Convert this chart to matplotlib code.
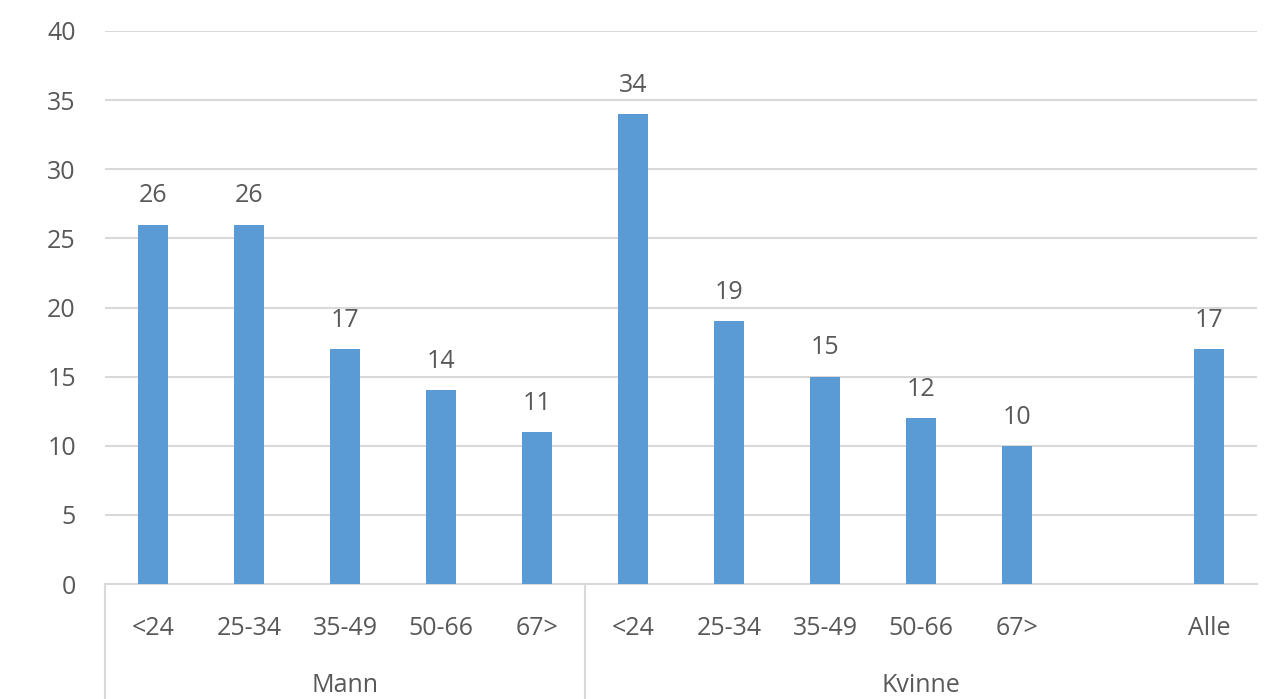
import matplotlib
matplotlib.use('agg')
import matplotlib.pyplot as plt
import numpy as np

# age groups shared by both sexes
age_groups = ["<24", "25-34", "35-49", "50-66", "67>"]
mann = [26, 26, 17, 14, 11]
kvinne = [34, 19, 15, 12, 10]
alle_label = "Alle"
alle = 17
group_names = ["Mann", "Kvinne"]

bar_color = "#5B9BD5"
text_color = "#595959"
grid_color = "#D9D9D9"
fsize = 18

plt.rcParams['font.family'] = ['Open Sans', 'DejaVu Sans']

# slot positions: 5 for Mann, 5 for Kvinne, one empty slot, then Alle
n = len(age_groups)
x_mann = np.arange(n)
x_kvinne = np.arange(n) + n
x_alle = 2 * n + 1

fig = plt.figure(figsize=(12.75, 6.99), dpi=100)
ax = fig.add_axes([105 / 1275, 1 - 584 / 699, 1152 / 1275, 553 / 699])

values = mann + kvinne + [alle]
xpos = list(x_mann) + list(x_kvinne) + [x_alle]
ax.bar(xpos, values, width=0.31, color=bar_color, zorder=3)

for x, v in zip(xpos, values):
    ax.annotate(str(v), (x, v), xytext=(0, 16), textcoords="offset points",
                ha="center", va="baseline", fontsize=fsize, color=text_color)

ax.set_xlim(-0.5, x_alle + 0.5)
ax.set_ylim(0, 40)
ax.set_yticks(np.arange(0, 41, 5))
ax.yaxis.grid(True, color=grid_color, linewidth=1.5, zorder=0)
ax.tick_params(axis="y", length=0, pad=21, labelsize=fsize, labelcolor=text_color)
ax.set_xticks([])

for side in ["top", "right", "left"]:
    ax.spines[side].set_visible(False)
ax.spines["bottom"].set_color(grid_color)
ax.spines["bottom"].set_linewidth(1.5)

# category labels in two levels below the axis
tr = ax.get_xaxis_transform()
for x, lab in zip(xpos, age_groups + age_groups + [alle_label]):
    ax.text(x, -0.092, lab, transform=tr, ha="center", va="baseline",
            fontsize=fsize, color=text_color)

spans = [(-0.5, n - 0.5), (n - 0.5, x_alle + 0.5)]
for (a, b), name in zip(spans, group_names):
    ax.text((a + b) / 2, -0.195, name, transform=tr, ha="center", va="baseline",
            fontsize=fsize, color=text_color)

# separators between the groups
for xs in [-0.5, n - 0.5]:
    ax.plot([xs, xs], [0, -0.21], transform=tr, color=grid_color,
            linewidth=1.5, clip_on=False)

fig.savefig("out.png", dpi=100)
